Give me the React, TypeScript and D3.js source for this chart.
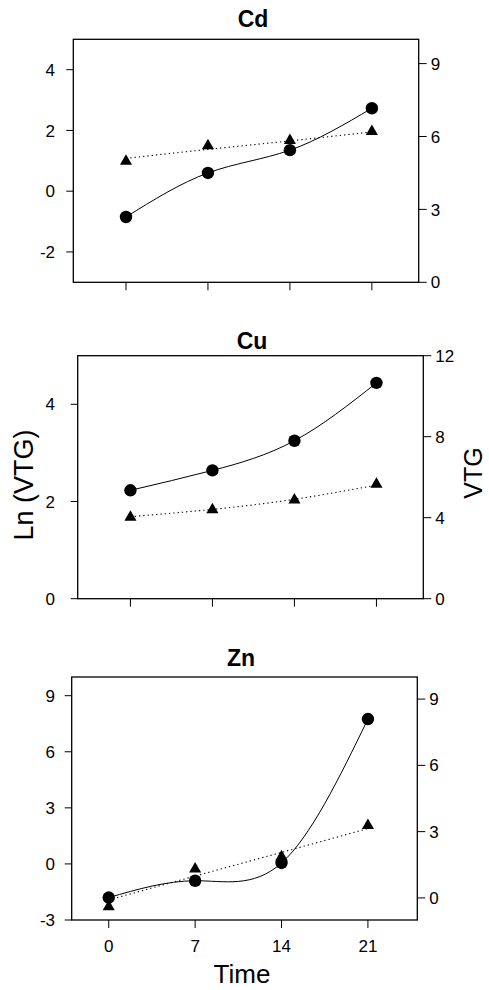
import React, { useEffect, useRef } from "react";
import * as d3 from "d3";

const days = [0, 7, 14, 21];
const dayTicks = [0, 7, 14, 21];

// Cd
const cdLn = [-0.85, 0.6, 1.35, 2.73];
const cdVtg = [4.98, 5.62, 5.84, 6.21];
const cdFit = [5.1, 5.47, 5.82, 6.19];
const cdLeftTicks = [-2, 0, 2, 4];
const cdRightTicks = [0, 3, 6, 9];

// Cu
const cuLn = [2.23, 2.64, 3.25, 4.44];
const cuVtg = [4.02, 4.39, 4.88, 5.65];
const cuFit = [4.05, 4.41, 4.91, 5.61];
const cuLeftTicks = [0, 2, 4];
const cuRightTicks = [0, 4, 8, 12];

// Zn
const znLn = [-1.8, -0.9, 0.05, 7.75];
const znVtg = [-0.4, 1.31, 1.86, 3.28];
const znFit = [-0.09, 0.99, 2.06, 3.14];
const znLeftTicks = [-3, 0, 3, 6, 9];
const znRightTicks = [0, 3, 6, 9];

const panels = [
  {
    title: "Cd", ln: cdLn, vtg: cdVtg, fit: cdFit,
    leftTicks: cdLeftTicks, rightTicks: cdRightTicks,
    leftDomain: [-3, 5], rightDomain: [0, 10], xDomain: [-4.5, 25],
    box: { x0: 73.3, x1: 418.7, y0: 39.3, y1: 282.3 },
    titleX: 253, titleY: 27, xLabels: false,
  },
  {
    title: "Cu", ln: cuLn, vtg: cuVtg, fit: cuFit,
    leftTicks: cuLeftTicks, rightTicks: cuRightTicks,
    leftDomain: [0, 5], rightDomain: [0, 12], xDomain: [-4.5, 25],
    box: { x0: 77.7, x1: 423.3, y0: 355.7, y1: 598.7 },
    titleX: 252, titleY: 349, xLabels: false,
  },
  {
    title: "Zn", ln: znLn, vtg: znVtg, fit: znFit,
    leftTicks: znLeftTicks, rightTicks: znRightTicks,
    leftDomain: [-3, 10], rightDomain: [-1, 10], xDomain: [-3, 25],
    box: { x0: 71.7, x1: 417.3, y0: 677, y1: 920 },
    titleX: 241, titleY: 666, xLabels: true,
  },
];

const font = "'Liberation Sans', Arial, Helvetica, sans-serif";

export default function App() {
  const ref = useRef<SVGSVGElement>(null);

  useEffect(() => {
    if (!ref.current) return;
    const svg = d3.select(ref.current);
    svg.selectAll("*").remove();

    const tri = (r: number) =>
      `M0,${-r}L${r * 0.866},${r / 2}L${-r * 0.866},${r / 2}Z`;

    panels.forEach((p) => {
      const { box } = p;
      const x = d3.scaleLinear().domain(p.xDomain).range([box.x0, box.x1]);
      const yL = d3.scaleLinear().domain(p.leftDomain).range([box.y1, box.y0]);
      const yR = d3.scaleLinear().domain(p.rightDomain).range([box.y1, box.y0]);

      const g = svg.append("g");

      // title
      g.append("text")
        .attr("x", p.titleX)
        .attr("y", p.titleY)
        .attr("text-anchor", "middle")
        .style("font-family", font)
        .style("font-weight", "bold")
        .style("font-size", "23px")
        .text(p.title);

      // left axis
      const left = g.append("g");
      left.selectAll("line")
        .data(p.leftTicks)
        .enter().append("line")
        .attr("x1", box.x0 - 7).attr("x2", box.x0)
        .attr("y1", (d) => yL(d)).attr("y2", (d) => yL(d))
        .attr("stroke", "#000");
      left.selectAll("text")
        .data(p.leftTicks)
        .enter().append("text")
        .attr("x", 55)
        .attr("y", (d) => yL(d))
        .attr("dy", "0.36em")
        .attr("text-anchor", "end")
        .style("font-family", font)
        .style("font-size", "17px")
        .text((d) => d);

      // right axis
      const right = g.append("g");
      right.selectAll("line")
        .data(p.rightTicks)
        .enter().append("line")
        .attr("x1", box.x1).attr("x2", box.x1 + 8)
        .attr("y1", (d) => yR(d)).attr("y2", (d) => yR(d))
        .attr("stroke", "#000");
      right.selectAll("text")
        .data(p.rightTicks)
        .enter().append("text")
        .attr("x", box.x1 + 12)
        .attr("y", (d) => yR(d))
        .attr("dy", "0.36em")
        .style("font-family", font)
        .style("font-size", "17px")
        .text((d) => d);

      // bottom ticks
      const bottom = g.append("g");
      bottom.selectAll("line")
        .data(dayTicks)
        .enter().append("line")
        .attr("x1", (d) => x(d)).attr("x2", (d) => x(d))
        .attr("y1", box.y1).attr("y2", box.y1 + 8)
        .attr("stroke", "#000");
      if (p.xLabels) {
        bottom.selectAll("text")
          .data(dayTicks)
          .enter().append("text")
          .attr("x", (d) => x(d))
          .attr("y", box.y1 + 32)
          .attr("text-anchor", "middle")
          .style("font-family", font)
          .style("font-size", "17px")
          .text((d) => d);
      }

      // frame
      g.append("rect")
        .attr("x", box.x0).attr("y", box.y0)
        .attr("width", box.x1 - box.x0).attr("height", box.y1 - box.y0)
        .attr("fill", "none")
        .attr("stroke", "#000")
        .attr("stroke-width", 1.3);

      // fitted VTG line (dotted)
      const fitLine = d3.line<number>()
        .x((d, i) => x(days[i]))
        .y((d) => yR(d))
        .curve(d3.curveNatural);
      g.append("path")
        .attr("d", fitLine(p.fit))
        .attr("fill", "none")
        .attr("stroke", "#000")
        .attr("stroke-width", 1.1)
        .attr("stroke-dasharray", "1.3 3");

      // Ln curve (solid)
      const lnLine = d3.line<number>()
        .x((d, i) => x(days[i]))
        .y((d) => yL(d))
        .curve(d3.curveNatural);
      g.append("path")
        .attr("d", lnLine(p.ln))
        .attr("fill", "none")
        .attr("stroke", "#000")
        .attr("stroke-width", 1);

      g.selectAll(".tri")
        .data(p.vtg)
        .enter().append("path")
        .attr("class", "tri")
        .attr("d", tri(7))
        .attr("transform", (d, i) => `translate(${x(days[i])},${yR(d)})`)
        .attr("fill", "#000");

      g.selectAll(".dot")
        .data(p.ln)
        .enter().append("circle")
        .attr("class", "dot")
        .attr("cx", (d, i) => x(days[i]))
        .attr("cy", (d) => yL(d))
        .attr("r", 6.2)
        .attr("fill", "#000");
    });

    // axis titles
    svg.append("text")
      .attr("transform", "translate(33,485) rotate(-90)")
      .attr("text-anchor", "middle")
      .style("font-family", font)
      .style("font-size", "27px")
      .text("Ln (VTG)");

    svg.append("text")
      .attr("transform", "translate(482,473) rotate(-90)")
      .attr("text-anchor", "middle")
      .style("font-family", font)
      .style("font-size", "25px")
      .text("VTG");

    svg.append("text")
      .attr("x", 242)
      .attr("y", 983)
      .attr("text-anchor", "middle")
      .style("font-family", font)
      .style("font-size", "26px")
      .text("Time");
  }, []);

  return (
    <svg
      ref={ref}
      width={489}
      height={990}
      style={{ position: "absolute", left: 0, top: 0, background: "#fff" }}
    />
  );
}
